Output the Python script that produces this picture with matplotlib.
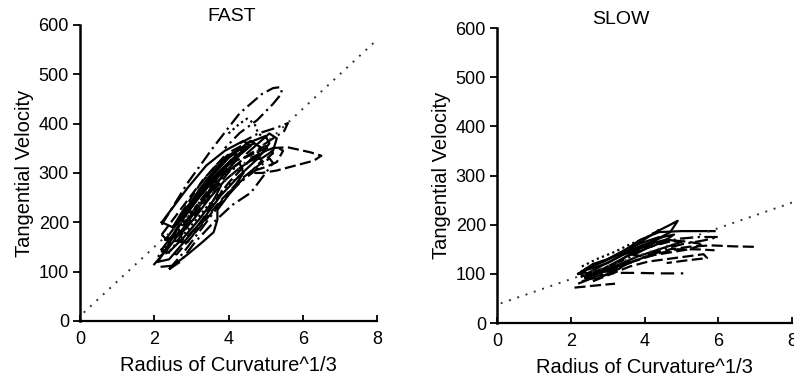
import numpy as np
import matplotlib
matplotlib.use('Agg')
import matplotlib.pyplot as plt

plt.rcParams['font.family'] = ['Liberation Sans', 'DejaVu Sans']

# regression lines (x, y end points)
fast_fit_x = [0.1, 8.0]
fast_fit_y = [17, 570]
slow_fit_x = [0.1, 8.0]
slow_fit_y = [40, 245]

# FAST trajectories
fast_a_x = [2.1, 2.5, 3.0, 3.5, 4.0, 4.5, 5.0, 5.1, 4.8, 4.3, 3.8, 3.3, 2.8, 2.4, 2.1]
fast_a_y = [120, 170, 235, 290, 330, 360, 375, 360, 330, 295, 255, 205, 160, 125, 120]
fast_b_x = [2.2, 2.6, 3.1, 3.6, 4.1, 4.6, 4.9, 4.5, 4.0, 3.6, 3.2, 2.8, 2.4, 2.2]
fast_b_y = [175, 215, 265, 310, 345, 365, 350, 320, 280, 240, 195, 165, 160, 175]
fast_c_x = [2.2, 2.9, 3.6, 4.3, 4.9, 5.2, 5.4, 5.44, 5.2, 4.77, 4.3, 3.9]
fast_c_y = [195, 280, 353, 421, 460, 472, 474, 462, 440, 407, 381, 350]
fast_d_x = [4.4, 5.0, 5.6, 6.2, 6.5, 6.3, 5.8, 5.3, 4.9, 4.6]
fast_d_y = [330, 350, 352, 342, 335, 325, 315, 305, 300, 300]
fast_e_x = [4.3, 4.8, 5.3, 5.6, 5.5, 5.2, 4.9]
fast_e_y = [360, 380, 392, 401, 385, 370, 355]
fast_f_x = [4.0, 4.3, 4.5, 4.7, 4.8, 5.0]
fast_f_y = [380, 400, 410, 400, 380, 370]
fast_g_x = [2.0, 2.4, 2.9, 3.4, 3.9, 4.3, 4.4, 4.1, 3.7, 3.7, 3.6, 3.3, 2.9, 2.5, 2.2]
fast_g_y = [115, 150, 200, 255, 300, 320, 300, 265, 225, 205, 180, 160, 135, 112, 110]
fast_h_x = [2.3, 2.7, 3.2, 3.7, 4.2, 4.7, 4.9, 4.5, 4.0, 3.5, 3.0, 2.6, 2.3]
fast_h_y = [140, 185, 240, 290, 325, 340, 325, 295, 260, 215, 170, 135, 140]
fast_i_x = [2.2, 2.5, 2.9, 3.4, 3.9, 4.4, 4.6, 4.2, 3.7, 3.2, 2.8, 2.5, 2.2]
fast_i_y = [200, 230, 270, 315, 345, 365, 355, 330, 295, 250, 210, 190, 200]
fast_j_x = [2.4, 2.8, 3.3, 3.8, 4.3, 4.8, 5.1, 5.2, 5.0, 4.6, 4.1, 3.6, 3.1, 2.7, 2.4]
fast_j_y = [105, 140, 190, 240, 280, 310, 330, 320, 300, 260, 235, 200, 160, 120, 105]
fast_k_x = [2.5, 3.0, 3.5, 4.0, 4.5, 4.2, 3.7, 3.2, 2.7, 2.5]
fast_k_y = [190, 240, 280, 320, 350, 335, 300, 260, 215, 190]
fast_l_x = [2.6, 3.1, 3.6, 4.1, 4.6, 5.0, 5.2, 4.8, 4.3, 3.8, 3.3, 2.9, 2.6]
fast_l_y = [160, 215, 265, 310, 340, 355, 340, 315, 285, 245, 200, 160, 160]
fast_m_x = [2.1, 2.6, 3.1, 3.6, 4.1, 4.4, 3.9, 3.4, 2.9, 2.4, 2.1]
fast_m_y = [130, 180, 230, 275, 310, 300, 270, 230, 185, 140, 130]
fast_n_x = [2.3, 2.7, 3.0, 3.4, 3.8, 4.2, 4.7, 5.0, 4.7, 4.3, 3.9, 3.5, 3.1, 2.7, 2.3]
fast_n_y = [165, 205, 240, 280, 320, 345, 360, 345, 330, 310, 285, 250, 210, 175, 165]
fast_o_x = [2.7, 3.0, 3.3, 3.6, 3.9, 4.2, 4.0, 3.7, 3.4, 3.1, 2.8, 2.7]
fast_o_y = [215, 250, 285, 310, 335, 340, 320, 290, 255, 220, 200, 215]
fast_p_x = [4.5, 4.8, 5.1, 5.3, 5.2, 4.9, 4.6]
fast_p_y = [340, 360, 380, 370, 345, 330, 325]
fast_q_x = [2.2, 2.5, 2.8, 3.2, 3.6, 3.8, 3.6, 3.2, 2.8, 2.4, 2.2]
fast_q_y = [145, 175, 210, 250, 285, 275, 245, 205, 170, 140, 145]
fast_r_x = [4.6, 5.0, 5.3, 5.47, 5.3, 5.0, 4.7]
fast_r_y = [330, 345, 353, 345, 322, 312, 305]
fast_s_x = [2.9, 3.2, 3.5, 3.8, 4.1, 4.4, 4.2, 3.9, 3.6, 3.3, 3.0, 2.9]
fast_s_y = [230, 265, 295, 320, 340, 350, 325, 300, 270, 240, 215, 230]

# SLOW trajectories
slow_a_x = [2.3, 2.8, 3.3, 3.8, 4.3, 4.7, 4.9, 4.7, 4.2, 3.7, 3.2, 2.7, 2.3]
slow_a_y = [95, 115, 135, 160, 185, 200, 208, 185, 165, 145, 120, 100, 95]
slow_b_x = [2.2, 2.7, 3.2, 3.7, 4.2, 4.7, 5.2, 5.8, 6.4, 7.0]
slow_b_y = [80, 95, 110, 125, 140, 150, 155, 158, 156, 155]
slow_c_x = [2.3, 2.8, 3.2, 3.8, 4.4, 5.05]
slow_c_y = [85, 95, 102, 102, 101, 101]
slow_d_x = [2.4, 2.9, 3.4, 3.9, 4.4, 5.0, 5.9]
slow_d_y = [110, 125, 145, 170, 185, 187, 187]
slow_e_x = [2.5, 3.0, 3.5, 4.0, 4.5, 5.0, 5.5, 6.0, 5.6, 5.0, 4.5, 4.0, 3.5, 3.0, 2.5]
slow_e_y = [100, 115, 130, 150, 165, 172, 175, 175, 168, 160, 150, 135, 120, 105, 100]
slow_f_x = [2.6, 3.1, 3.6, 4.1, 4.6, 5.1, 5.6, 5.7, 5.2, 4.6]
slow_f_y = [85, 100, 115, 125, 130, 135, 140, 132, 128, 122]
slow_g_x = [2.2, 2.6, 3.0, 3.5, 4.0, 4.5, 4.8, 4.5, 4.0, 3.5, 3.0, 2.6, 2.2]
slow_g_y = [100, 120, 130, 145, 160, 175, 180, 165, 150, 135, 115, 100, 100]
slow_h_x = [2.1, 2.5, 2.9, 3.2]
slow_h_y = [72, 75, 78, 80]
slow_i_x = [3.0, 3.5, 4.0, 4.4, 4.2, 3.8, 3.3]
slow_i_y = [130, 150, 165, 175, 160, 150, 138]
slow_j_x = [2.4, 2.9, 3.4, 3.9, 4.4, 4.9, 5.4, 5.9]
slow_j_y = [90, 105, 118, 130, 142, 150, 150, 148]
slow_k_x = [2.3, 2.7, 3.2, 3.6, 4.0, 4.4]
slow_k_y = [115, 130, 145, 160, 172, 190]
slow_l_x = [2.3, 2.6, 3.0, 3.4, 3.8, 4.2, 4.6, 5.0, 4.6, 4.2, 3.8, 3.4, 3.0, 2.6, 2.3]
slow_l_y = [105, 112, 122, 138, 150, 162, 170, 165, 155, 145, 135, 122, 108, 98, 105]
slow_m_x = [3.6, 4.0, 4.4, 4.8, 5.2, 5.6, 5.2, 4.8, 4.4, 4.0, 3.6]
slow_m_y = [140, 152, 160, 168, 165, 160, 150, 145, 140, 135, 140]
slow_n_x = [2.4, 2.7, 3.0, 3.3, 3.6, 3.3, 3.0, 2.7, 2.4]
slow_n_y = [92, 100, 110, 118, 125, 110, 100, 90, 92]

dashed = (0, (5, 2))
dashdot = (0, (6, 2, 1, 2))
dotted = (0, (1, 1.5))

fast_traj = [
    (fast_a_x, fast_a_y, '-'), (fast_b_x, fast_b_y, dashed),
    (fast_c_x, fast_c_y, dashdot), (fast_d_x, fast_d_y, dashed),
    (fast_e_x, fast_e_y, dashdot), (fast_f_x, fast_f_y, dotted),
    (fast_g_x, fast_g_y, '-'), (fast_h_x, fast_h_y, dashed),
    (fast_i_x, fast_i_y, '-'), (fast_j_x, fast_j_y, dashdot),
    (fast_k_x, fast_k_y, '-'), (fast_l_x, fast_l_y, dashed),
    (fast_m_x, fast_m_y, dotted), (fast_n_x, fast_n_y, '-'),
    (fast_o_x, fast_o_y, dashed), (fast_p_x, fast_p_y, '-'),
    (fast_q_x, fast_q_y, '-'), (fast_r_x, fast_r_y, dashed),
    (fast_s_x, fast_s_y, '-'),
]
slow_traj = [
    (slow_a_x, slow_a_y, '-'), (slow_b_x, slow_b_y, dashed),
    (slow_c_x, slow_c_y, (0, (6, 3))), (slow_d_x, slow_d_y, '-'),
    (slow_e_x, slow_e_y, dashdot), (slow_f_x, slow_f_y, dashed),
    (slow_g_x, slow_g_y, '-'), (slow_h_x, slow_h_y, dashed),
    (slow_i_x, slow_i_y, '-'), (slow_j_x, slow_j_y, dashed),
    (slow_k_x, slow_k_y, dotted), (slow_l_x, slow_l_y, '-'),
    (slow_m_x, slow_m_y, dashed), (slow_n_x, slow_n_y, '-'),
]

fig = plt.figure(figsize=(7.94, 3.88), dpi=100)
ax1 = fig.add_axes([0.1008, 0.1727, 0.374, 0.763])
ax2 = fig.add_axes([0.626, 0.1675, 0.3715, 0.760])

panels = [(ax1, 'FAST', fast_traj, fast_fit_x, fast_fit_y, 0.51),
          (ax2, 'SLOW', slow_traj, slow_fit_x, slow_fit_y, 0.42)]

for ax, title, trajs, fx, fy, tx in panels:
    for xs, ys, ls in trajs:
        ax.plot(xs, ys, color='black', linestyle=ls, lw=1.6)
    ax.plot(fx, fy, color='#333333', linestyle=(0, (1, 3.5)), lw=1.4)
    ax.set_xlim(0, 8)
    ax.set_ylim(0, 600)
    ax.set_xticks([0, 2, 4, 6, 8])
    ax.set_yticks([0, 100, 200, 300, 400, 500, 600])
    for s in ['top', 'right']:
        ax.spines[s].set_visible(False)
    ax.spines['left'].set_linewidth(1.8)
    ax.spines['bottom'].set_linewidth(1.6)
    ax.tick_params(axis='y', labelsize=13, length=5, width=1.3,
                   direction='out', pad=3)
    ax.tick_params(axis='x', labelsize=13, length=4, width=1.3,
                   direction='in', pad=7)
    ax.set_xlabel('Radius of Curvature^1/3', fontsize=14.5, labelpad=6)
    ax.set_ylabel('Tangential Velocity', fontsize=14.5, labelpad=3)
    ax.text(tx, 1.0, title, transform=ax.transAxes, ha='center',
            va='bottom', fontsize=14)

fig.savefig('out.png', dpi=100)
